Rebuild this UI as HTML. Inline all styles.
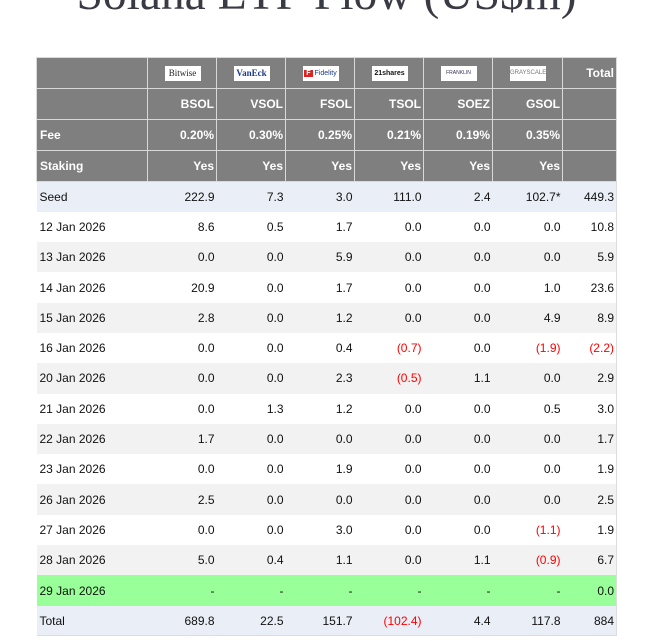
<!DOCTYPE html>
<html><head><meta charset="utf-8"><style>
body{margin:0;width:653px;height:641px;background:#fff;overflow:hidden;position:relative;font-family:"Liberation Sans",Arial,sans-serif}
.title{position:absolute;left:0;width:653px;top:-33px;text-align:center;font-family:"Liberation Serif",serif;font-size:47.5px;color:#3a3a44;white-space:nowrap}
table{position:absolute;left:36px;top:57px;border-collapse:collapse;font-size:12px;color:#111;border-right:1px solid #ddd;border-bottom:1px solid #ddd}
td{padding:0 2px 0 3px;text-align:right;height:30.3px;box-sizing:border-box}
td:first-child{text-align:left}
tr.h td{background:#7f7f7f;color:#fff;font-weight:bold;border:1px solid #d9d9d9;height:31px}
tr.h td.lc{text-align:center}
.logo{display:inline-block;width:36px;height:15px;background:#fff;font-size:7px;color:#335;line-height:15px;text-align:center;font-weight:normal;vertical-align:middle;overflow:hidden}
.neg{color:#f00}
tr.b td{background:#e9eef7}tr.w td{background:#fff}tr.g td{background:#f2f2f2}tr.gr td{background:#99ff99}
</style></head><body>
<div class="title">Solana ETF Flow (US$m)</div>
<table>
<colgroup><col style="width:111px"><col style="width:69px"><col style="width:69px"><col style="width:69px"><col style="width:69px"><col style="width:69px"><col style="width:70px"><col style="width:54px"></colgroup>
<tr class="h"><td></td><td class="lc"><span class="logo" style="font-family:'Liberation Serif',serif;font-size:9px;color:#222">Bitwise</span></td><td class="lc"><span class="logo" style="color:#1a3a8a;font-weight:bold;font-size:9px;font-family:'Liberation Serif',serif">VanEck</span></td><td class="lc"><span class="logo" style="color:#1a3a8a"><b style="background:#d22;color:#fff;padding:0 2px">F</b> Fidelity</span></td><td class="lc"><span class="logo" style="color:#111;font-weight:bold">21shares</span></td><td class="lc"><span class="logo" style="font-size:5px">FRANKLIN</span></td><td class="lc"><span class="logo" style="font-size:6px;color:#777">GRAYSCALE</span></td><td>Total</td></tr>
<tr class="h"><td></td><td>BSOL</td><td>VSOL</td><td>FSOL</td><td>TSOL</td><td>SOEZ</td><td>GSOL</td><td></td></tr>
<tr class="h"><td>Fee</td><td>0.20%</td><td>0.30%</td><td>0.25%</td><td>0.21%</td><td>0.19%</td><td>0.35%</td><td></td></tr>
<tr class="h"><td>Staking</td><td>Yes</td><td>Yes</td><td>Yes</td><td>Yes</td><td>Yes</td><td>Yes</td><td></td></tr>
<tr class="b"><td>Seed</td><td>222.9</td><td>7.3</td><td>3.0</td><td>111.0</td><td>2.4</td><td>102.7*</td><td>449.3</td></tr>
<tr class="w"><td>12 Jan 2026</td><td>8.6</td><td>0.5</td><td>1.7</td><td>0.0</td><td>0.0</td><td>0.0</td><td>10.8</td></tr>
<tr class="g"><td>13 Jan 2026</td><td>0.0</td><td>0.0</td><td>5.9</td><td>0.0</td><td>0.0</td><td>0.0</td><td>5.9</td></tr>
<tr class="w"><td>14 Jan 2026</td><td>20.9</td><td>0.0</td><td>1.7</td><td>0.0</td><td>0.0</td><td>1.0</td><td>23.6</td></tr>
<tr class="g"><td>15 Jan 2026</td><td>2.8</td><td>0.0</td><td>1.2</td><td>0.0</td><td>0.0</td><td>4.9</td><td>8.9</td></tr>
<tr class="w"><td>16 Jan 2026</td><td>0.0</td><td>0.0</td><td>0.4</td><td class="neg">(0.7)</td><td>0.0</td><td class="neg">(1.9)</td><td class="neg">(2.2)</td></tr>
<tr class="g"><td>20 Jan 2026</td><td>0.0</td><td>0.0</td><td>2.3</td><td class="neg">(0.5)</td><td>1.1</td><td>0.0</td><td>2.9</td></tr>
<tr class="w"><td>21 Jan 2026</td><td>0.0</td><td>1.3</td><td>1.2</td><td>0.0</td><td>0.0</td><td>0.5</td><td>3.0</td></tr>
<tr class="g"><td>22 Jan 2026</td><td>1.7</td><td>0.0</td><td>0.0</td><td>0.0</td><td>0.0</td><td>0.0</td><td>1.7</td></tr>
<tr class="w"><td>23 Jan 2026</td><td>0.0</td><td>0.0</td><td>1.9</td><td>0.0</td><td>0.0</td><td>0.0</td><td>1.9</td></tr>
<tr class="g"><td>26 Jan 2026</td><td>2.5</td><td>0.0</td><td>0.0</td><td>0.0</td><td>0.0</td><td>0.0</td><td>2.5</td></tr>
<tr class="w"><td>27 Jan 2026</td><td>0.0</td><td>0.0</td><td>3.0</td><td>0.0</td><td>0.0</td><td class="neg">(1.1)</td><td>1.9</td></tr>
<tr class="g"><td>28 Jan 2026</td><td>5.0</td><td>0.4</td><td>1.1</td><td>0.0</td><td>1.1</td><td class="neg">(0.9)</td><td>6.7</td></tr>
<tr class="gr"><td>29 Jan 2026</td><td>-</td><td>-</td><td>-</td><td>-</td><td>-</td><td>-</td><td>0.0</td></tr>
<tr class="b"><td>Total</td><td>689.8</td><td>22.5</td><td>151.7</td><td class="neg">(102.4)</td><td>4.4</td><td>117.8</td><td>884</td></tr>
</table>
</body></html>
